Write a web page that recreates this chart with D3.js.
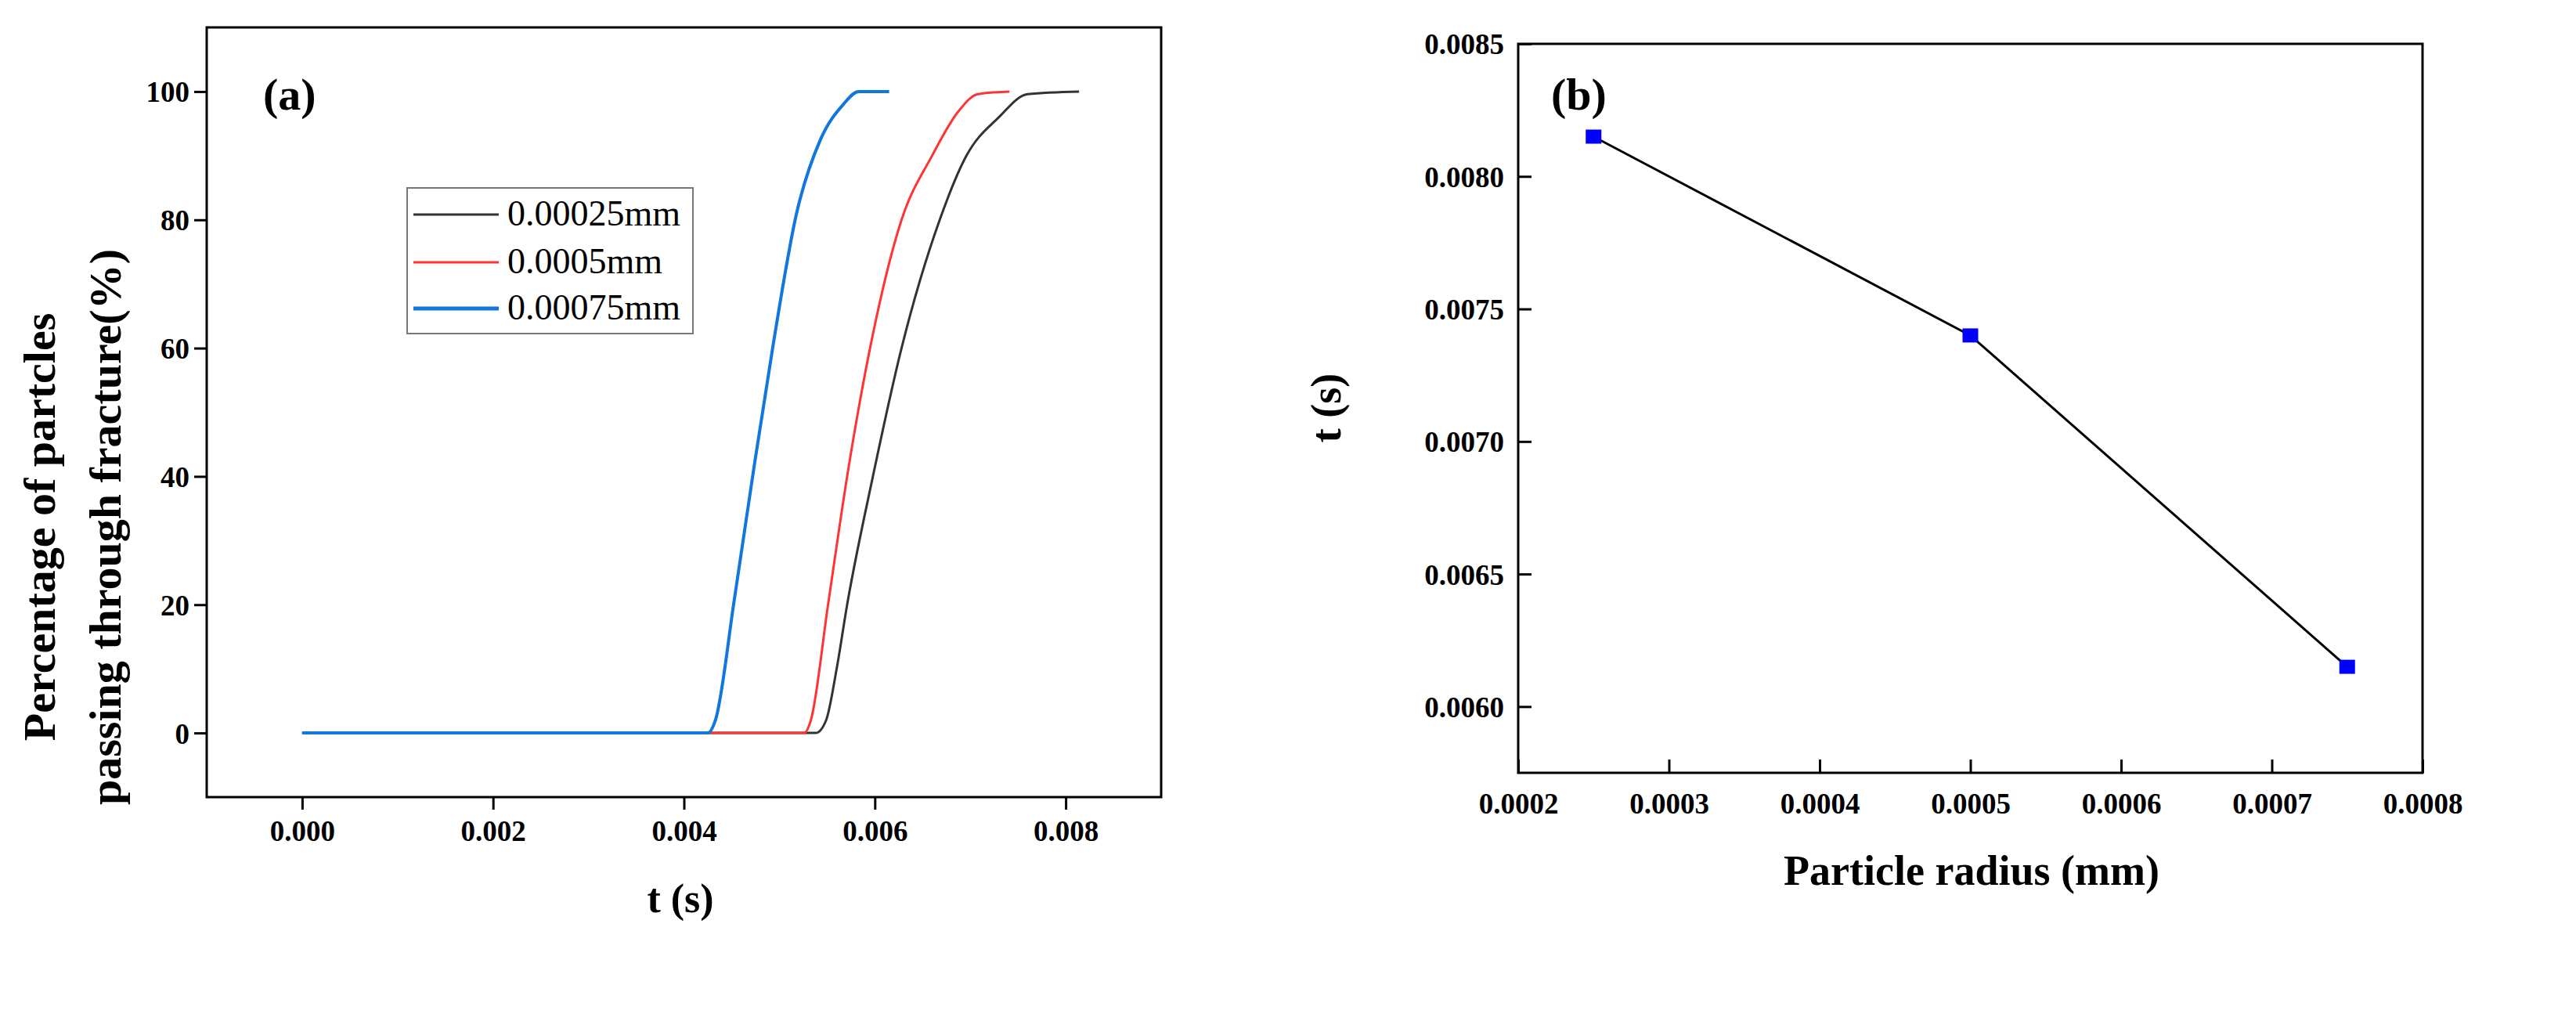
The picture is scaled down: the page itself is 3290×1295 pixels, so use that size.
<!DOCTYPE html><html><head><script src="https://d3js.org/d3.v7.min.js"></script>
<style>body{margin:0;background:#fff}</style></head><body><svg id="c" width="3290" height="1295"></svg>
<script>
const blackX=[0,0.00538,0.00549,0.0056,0.00571,0.00598,0.00628,0.00668,0.00696,0.0073,0.0076,0.00814];
const blackY=[0,0,2,10,20,40,60,80,90,96,99.6,100];
const redX=[0,0.00526,0.00533,0.00551,0.00571,0.00595,0.00628,0.0066,0.00688,0.00708,0.00741];
const redY=[0,0,2,20,40,60,80,90,97,99.6,100];
const blueX=[0,0.00425,0.00433,0.00453,0.00474,0.00494,0.00518,0.00543,0.00567,0.00583,0.00615];
const blueY=[0,0,2,21,42,61,81,92.5,98,100,100];
const seriesNames=["0.00025mm","0.0005mm","0.00075mm"];
const seriesColors=["#333333","#ff3333","#1177dd"];
const radius=[0.00025,0.0005,0.00075];
const tValues=[0.00815,0.0074,0.00615];
const xTicksA=[0,0.002,0.004,0.006,0.008];
const yTicksA=[0,20,40,60,80,100];
const xTicksB=[0.0002,0.0003,0.0004,0.0005,0.0006,0.0007,0.0008];
const yTicksB=[0.006,0.0065,0.007,0.0075,0.008,0.0085];

const svg=d3.select("#c");
const F="Liberation Serif, Times New Roman, serif";
function frame(L,R,T,B){
  svg.append("rect").attr("x",L).attr("y",T).attr("width",R-L).attr("height",B-T).attr("fill","none").attr("stroke","#000").attr("stroke-width",3);
}
function style(g){g.select(".domain").remove();g.selectAll("line").attr("stroke-width",3);g.selectAll("text").attr("font-family",F).attr("font-weight","bold").attr("font-size",37).attr("fill","#000");}
// Panel a
const xa=d3.scaleLinear().domain([-0.001,0.009]).range([264,1483]);
const ya=d3.scaleLinear().domain([-10,110]).range([1018,35]);
frame(264,1483,35,1018);
const ga=svg.append("g").attr("transform","translate(0,1018)").call(d3.axisBottom(xa).tickValues(xTicksA).tickFormat(d3.format(".3f")).tickSize(16).tickSizeOuter(0));
const gay=svg.append("g").attr("transform","translate(264,0)").call(d3.axisLeft(ya).tickValues(yTicksA).tickFormat(d3.format("d")).tickSize(16).tickSizeOuter(0));
style(ga);style(gay);
ga.selectAll("text").attr("y",56).attr("dy",0);
gay.selectAll("text").attr("x",-22).attr("dy","0.35em");
const line=d3.line().curve(d3.curveMonotoneX);
[[blackX,blackY],[redX,redY],[blueX,blueY]].forEach((s,i)=>{
  svg.append("path").attr("d",line(s[0].map((v,j)=>[xa(v),ya(s[1][j])]))).attr("fill","none").attr("stroke",seriesColors[i]).attr("stroke-width",i==2?4:3);
});
svg.append("rect").attr("x",520).attr("y",240).attr("width",365).attr("height",186).attr("fill","none").attr("stroke","#777").attr("stroke-width",2);
const legY=[274,335,394];
seriesNames.forEach((n,i)=>{
  const y=legY[i];
  svg.append("line").attr("x1",528).attr("x2",637).attr("y1",y).attr("y2",y).attr("stroke",seriesColors[i]).attr("stroke-width",i==2?5:3);
  svg.append("text").attr("x",648).attr("y",y+14).attr("font-family",F).attr("font-size",46).text(n);
});
svg.append("text").attr("x",336).attr("y",140).attr("font-family",F).attr("font-weight","bold").attr("font-size",58).text("(a)");
svg.append("text").attr("x",869).attr("y",1165).attr("text-anchor","middle").attr("font-family",F).attr("font-weight","bold").attr("font-size",52).text("t (s)");
const yt=svg.append("text").attr("transform","translate(70,673) rotate(-90)").attr("text-anchor","middle").attr("font-family",F).attr("font-weight","bold").attr("font-size",58);
yt.append("tspan").attr("x",0).attr("dy",0).text("Percentage of partcles");
yt.append("tspan").attr("x",0).attr("dy",84).text("passing through fracture(%)");

// Panel b
const xb=d3.scaleLinear().domain([0.0002,0.0008]).range([1939,3094]);
const yb=d3.scaleLinear().domain([0.00575,0.0085]).range([987,56]);
frame(1939,3094,56,987);
const gb=svg.append("g").attr("transform","translate(0,987)").call(d3.axisBottom(xb).tickValues(xTicksB).tickFormat(d3.format(".4f")).tickSize(-17).tickSizeOuter(0));
const gby=svg.append("g").attr("transform","translate(1939,0)").call(d3.axisLeft(yb).tickValues(yTicksB).tickFormat(d3.format(".4f")).tickSize(-17).tickSizeOuter(0));
style(gb);style(gby);
gb.selectAll("text").attr("y",52).attr("dy",0);
gby.selectAll("text").attr("x",-18).attr("dy","0.35em");
svg.append("path").attr("d",d3.line()(radius.map((r,i)=>[xb(r),yb(tValues[i])]))).attr("fill","none").attr("stroke","#000").attr("stroke-width",3);
radius.forEach((r,i)=>svg.append("rect").attr("x",xb(r)-10).attr("y",yb(tValues[i])-9).attr("width",20).attr("height",18).attr("fill","#0000ff"));
svg.append("text").attr("x",1981).attr("y",140).attr("font-family",F).attr("font-weight","bold").attr("font-size",58).text("(b)");
svg.append("text").attr("x",2518).attr("y",1130).attr("text-anchor","middle").attr("font-family",F).attr("font-weight","bold").attr("font-size",54).text("Particle radius (mm)");
svg.append("text").attr("transform","translate(1712,521) rotate(-90)").attr("text-anchor","middle").attr("font-family",F).attr("font-weight","bold").attr("font-size",54).text("t (s)");
</script></body></html>
